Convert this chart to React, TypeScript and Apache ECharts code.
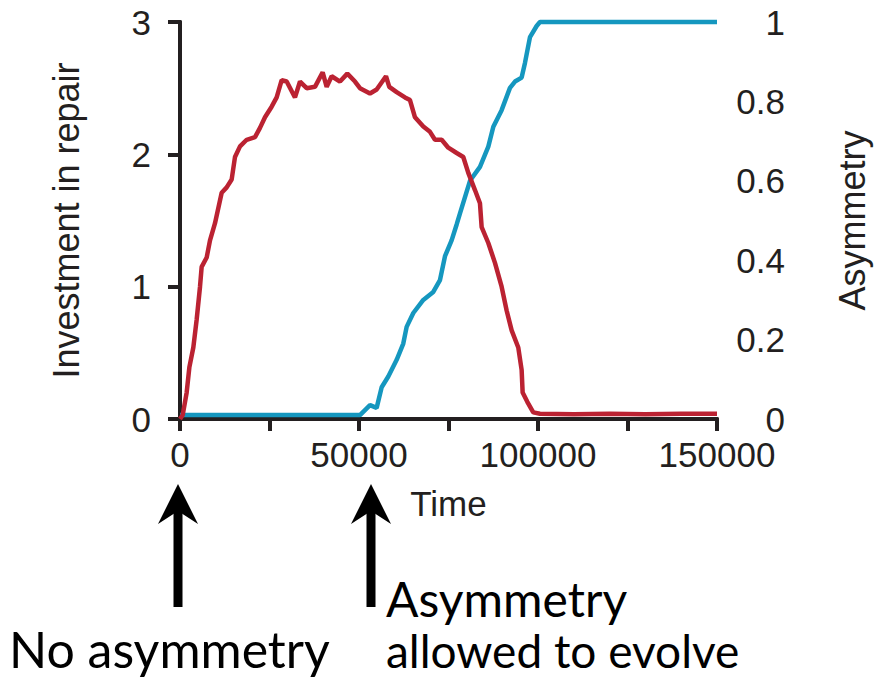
import React, { useEffect, useRef } from "react";
import * as echarts from "echarts";

// Investment in repair (left axis, 0-3)
const repairTime = [0, 750, 1860, 2610, 3720, 4650, 5590, 6050, 7450, 8380, 9780, 11640, 13040, 14430, 15360, 16760, 18620, 20950, 22340, 23740, 25600, 27000, 28400, 29800, 32120, 33520, 35380, 37700, 39850, 40970, 42360, 44690, 46740, 48880, 50270, 53070, 54930, 57540, 58460, 60520, 62840, 64240, 65640, 67960, 69830, 71220, 73090, 74940, 77280, 79130, 80530, 82390, 83790, 84260, 86120, 87980, 89840, 91240, 92640, 94490, 95430, 95710, 97010, 98680, 100550, 110000, 120000, 130000, 140000, 150000];
const repairValue = [0, 0.03, 0.2, 0.39, 0.54, 0.75, 1.0, 1.15, 1.22, 1.35, 1.48, 1.71, 1.75, 1.81, 1.98, 2.06, 2.11, 2.13, 2.2, 2.28, 2.36, 2.43, 2.56, 2.55, 2.43, 2.55, 2.5, 2.51, 2.62, 2.51, 2.59, 2.55, 2.61, 2.55, 2.5, 2.46, 2.49, 2.59, 2.51, 2.47, 2.43, 2.41, 2.28, 2.21, 2.17, 2.11, 2.11, 2.05, 2.01, 1.98, 1.86, 1.73, 1.63, 1.45, 1.33, 1.18, 1.0, 0.82, 0.67, 0.54, 0.37, 0.2, 0.13, 0.05, 0.04, 0.035, 0.04, 0.035, 0.04, 0.04];

// Asymmetry (right axis, 0-1)
const asymTime = [0, 50270, 53070, 54930, 56330, 58180, 60520, 62370, 63310, 65170, 67960, 70750, 72620, 74020, 75870, 77280, 78210, 81000, 83790, 86120, 87520, 89840, 92170, 93570, 95430, 96360, 97760, 99620, 100550, 150000];
const asymValue = [0.01, 0.01, 0.035, 0.028, 0.08, 0.107, 0.149, 0.19, 0.232, 0.267, 0.3, 0.32, 0.35, 0.41, 0.45, 0.49, 0.518, 0.6, 0.635, 0.686, 0.736, 0.778, 0.834, 0.85, 0.86, 0.897, 0.962, 0.99, 1.0, 1.0];

const xLabelTicks = [0, 50000, 100000, 150000];

const AXIS = "#231f20";
const RED = "#bb2232";
const BLUE = "#1597bf";
const FONT = "Liberation Sans";
const NOTE_FONT = "Lato";

function arrow(cx: number) {
  return [
    {
      type: "polygon",
      shape: { points: [[cx, 484], [cx + 20, 524], [cx, 511], [cx - 20, 524]] },
      style: { fill: "#000" },
    },
    {
      type: "rect",
      shape: { x: cx - 4.5, y: 508, width: 9, height: 99 },
      style: { fill: "#000" },
    },
  ];
}

export default function App() {
  const ref = useRef<HTMLDivElement>(null);
  useEffect(() => {
    if (!ref.current) return;
    const chart = echarts.init(ref.current, null, { renderer: "svg" });
    const option: any = {
      animation: false,
      backgroundColor: "#fff",
      grid: { left: 180, right: 168, top: 22, bottom: 266 },
      xAxis: [
        {
          type: "value",
          min: 0,
          max: 150000,
          interval: 25000,
          axisLine: { lineStyle: { color: AXIS, width: 4 } },
          axisTick: { inside: false, length: 12, lineStyle: { color: AXIS, width: 4 } },
          axisLabel: {
            formatter: (v: number) => (xLabelTicks.indexOf(v) >= 0 ? String(v) : ""),
            fontSize: 35,
            fontFamily: FONT,
            color: AXIS,
            margin: 18,
          },
          splitLine: { show: false },
          name: "Time",
          nameLocation: "middle",
          nameGap: 67,
          nameTextStyle: { fontSize: 35, fontFamily: FONT, color: AXIS },
        },
        {
          type: "value",
          position: "top",
          min: 0,
          max: 150000,
          axisLine: { show: true, lineStyle: { color: AXIS, width: 4 } },
          axisTick: { show: false },
          axisLabel: { show: false },
          splitLine: { show: false },
        },
      ],
      yAxis: [
        {
          type: "value",
          position: "left",
          min: 0,
          max: 3,
          interval: 1,
          axisLine: { show: true, lineStyle: { color: AXIS, width: 4 } },
          axisTick: { show: true, inside: false, length: 12, lineStyle: { color: AXIS, width: 4 } },
          axisLabel: { fontSize: 35, fontFamily: FONT, color: AXIS, margin: 29 },
          splitLine: { show: false },
          name: "Investment in repair",
          nameLocation: "middle",
          nameGap: 96,
          nameTextStyle: { fontSize: 36, fontFamily: FONT, color: AXIS },
        },
        {
          type: "value",
          position: "right",
          min: 0,
          max: 1,
          interval: 0.2,
          axisLine: { show: true, lineStyle: { color: AXIS, width: 4 } },
          axisTick: { show: false },
          axisLabel: {
            formatter: (v: number) => String(+v.toFixed(1)),
            fontSize: 35,
            fontFamily: FONT,
            color: AXIS,
            align: "right",
            margin: 68,
          },
          splitLine: { show: false },
          name: "Asymmetry",
          nameLocation: "middle",
          nameGap: 117,
          nameTextStyle: { fontSize: 36, fontFamily: FONT, color: AXIS },
        },
      ],
      series: [
        {
          type: "line",
          yAxisIndex: 1,
          data: asymTime.map((t, i) => [t, asymValue[i]]),
          showSymbol: false,
          clip: false,
          lineStyle: { color: BLUE, width: 4.5 },
          z: 3,
        },
        {
          type: "line",
          yAxisIndex: 0,
          data: repairTime.map((t, i) => [t, repairValue[i]]),
          showSymbol: false,
          clip: false,
          lineStyle: { color: RED, width: 4.5 },
          z: 4,
        },
      ],
      graphic: [
        ...arrow(178),
        ...arrow(371),
        {
          type: "text",
          style: { text: "No asymmetry", x: 9, y: 649, fontSize: 50, lineHeight: 44, fontFamily: NOTE_FONT, fill: "#000", align: "left", verticalAlign: "middle" },
        },
        {
          type: "text",
          style: { text: "Asymmetry", x: 386, y: 598, fontSize: 48, lineHeight: 44, fontFamily: NOTE_FONT, fill: "#000", align: "left", verticalAlign: "middle" },
        },
        {
          type: "text",
          style: { text: "allowed to evolve", x: 386, y: 650, fontSize: 46, lineHeight: 44, fontFamily: NOTE_FONT, fill: "#000", align: "left", verticalAlign: "middle" },
        },
      ],
    };
    chart.setOption(option);
    return () => chart.dispose();
  }, []);
  return <div ref={ref} style={{ position: "fixed", left: 0, top: 0, width: 885, height: 685 }} />;
}
